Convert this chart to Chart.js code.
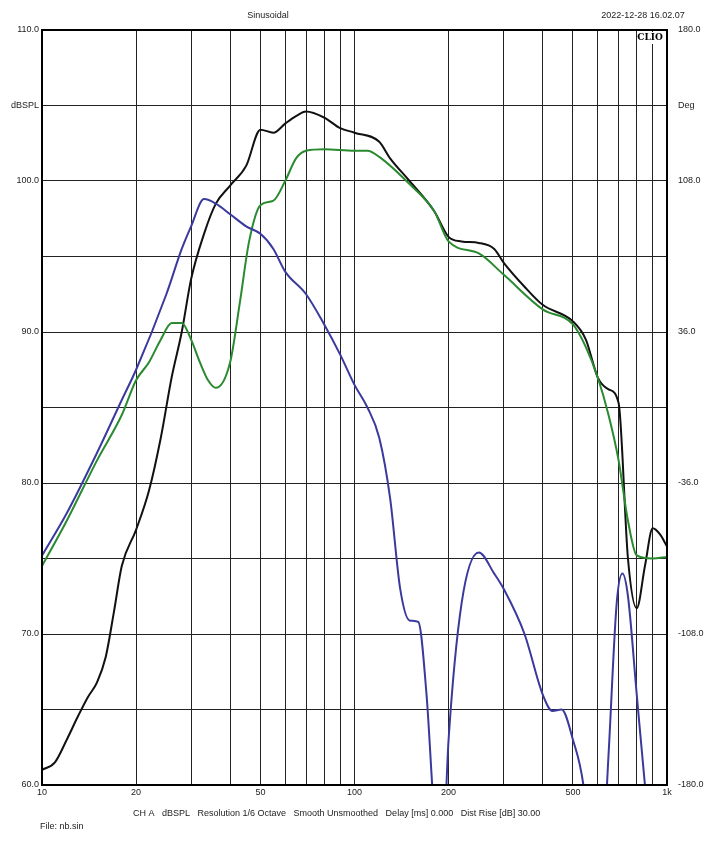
<!DOCTYPE html>
<html><head><meta charset="utf-8">
<script src="https://cdn.jsdelivr.net/npm/chart.js@4/dist/chart.umd.min.js"></script>
<style>html,body{margin:0;padding:0;background:#fff}#w{width:705px;height:841px}</style>
</head><body><div id="w"><canvas id="c"></canvas></div>
<script>
const xTicks=[10,20,30,40,50,60,70,80,90,100,200,300,400,500,600,700,800,900,1000];
const xLabels={10:'10',20:'20',50:'50',100:'100',200:'200',500:'500',1000:'1k'};
const leftLabels={110:'110.0',105:'dBSPL',100:'100.0',90:'90.0',80:'80.0',70:'70.0',60:'60.0'};
const rightLabels={110:'180.0',105:'Deg',100:'108.0',90:'36.0',80:'-36.0',70:'-108.0',60:'-180.0'};
const blackF=[10,11,12,13,14,15,16,17,18,20,22,24,26,28,30,33,36,40,45,50,55,60,65,70,80,90,100,120,130,150,180,200,220,250,280,300,350,400,500,550,600,650,700,750,800,850,900,950,1000];
const blackV=[61.0,61.5,63,64.5,65.8,66.8,68.5,71.5,74.5,76.9,79.5,83,87,90,93.5,96.5,98.5,99.7,101,103.4,103.2,103.8,104.3,104.6,104.2,103.5,103.2,102.6,101.5,100,98,96.3,96,95.9,95.5,94.6,93,91.8,90.7,89.5,87,86.2,85.3,75,71.7,74.5,77,76.6,75.8];
const greenF=[10,12,15,18,20,22,24,26,28,30,32,34,36,40,43,46,50,55,60,65,70,80,100,110,120,150,180,200,250,300,400,500,550,600,650,700,750,800,900,1000];
const greenV=[74.5,77.5,81.5,84.5,86.8,88,89.5,90.6,90.6,89.5,88,86.8,86.3,88,92,96,98.4,98.7,100,101.5,102,102.1,102,102,101.6,99.8,98,96,95.2,93.8,91.5,90.5,89,87,84.5,81.5,77.5,75.2,75,75.1];
const blueF=[10,12,15,18,20,25,28,30,33,36,40,45,50,55,60,70,80,90,100,110,120,130,140,150,160,170,180,190,200,220,250,280,300,350,400,430,460,500,540,570,600,650,690,720,750,800,850,900];
const blueV=[75.2,78,82,85.5,87.5,92.5,95.5,97,98.8,98.5,97.8,97,96.5,95.5,94,92.5,90.5,88.5,86.5,85,83,79,73,70.9,70.8,66,58,54,63,72,75.4,74,73,70,66,64.9,65,63,60,55,50,62,72,74,72.5,66,60,55];
const toPts=(f,v)=>f.map((x,i)=>({x:x,y:v[i]}));
const extras={id:'extras',
 afterDatasetsDraw(ch){const c=ch.ctx,a=ch.chartArea;c.save();
  c.strokeStyle='#000';c.lineWidth=2;c.strokeRect(a.left,a.top,a.right-a.left,a.bottom-a.top);
  c.fillStyle='#fff';c.fillRect(a.right-30,a.top+2,26,12);
  c.fillStyle='#000';c.font='bold 9px "DejaVu Serif"';c.textAlign='center';c.textBaseline='middle';
  c.fillText('CLIO',a.right-17,a.top+8);
  c.font='9px "Liberation Sans"';c.fillStyle='#222';
  c.fillText('Sinusoidal',268,16);
  c.fillText('2022-12-28 16.02.07',643,16);
  c.textAlign='left';
  c.fillText('CH A   dBSPL   Resolution 1/6 Octave   Smooth Unsmoothed   Delay [ms] 0.000   Dist Rise [dB] 30.00',133,814);
  c.fillText('File: nb.sin',40,827);
  c.restore();}};
new Chart(document.getElementById('c'),{type:'line',
 data:{datasets:[
  {data:toPts(blueF,blueV),borderColor:'#3a3a9e',borderWidth:2},
  {data:toPts(greenF,greenV),borderColor:'#2a8a30',borderWidth:2},
  {data:toPts(blackF,blackV),borderColor:'#111',borderWidth:2}]},
 options:{responsive:true,maintainAspectRatio:false,animation:false,
  layout:{padding:{top:30,bottom:40,left:0,right:0}},
  elements:{point:{radius:0},line:{tension:0.4,cubicInterpolationMode:'monotone'}},
  plugins:{legend:{display:false},tooltip:{enabled:false}},
  scales:{
   x:{type:'logarithmic',min:10,max:1000,
    afterBuildTicks:s=>{s.ticks=xTicks.map(v=>({value:v}));},
    afterFit:s=>{s.height=16;},
    ticks:{autoSkip:false,maxRotation:0,padding:2,color:'#222',font:{size:9,family:'Liberation Sans'},callback:v=>xLabels[v]||''},
    grid:{color:'#222',lineWidth:1,drawTicks:false},border:{display:false}},
   y:{min:60,max:110,position:'left',
    afterBuildTicks:s=>{const t=[];for(let v=60;v<=110;v+=5)t.push({value:v});s.ticks=t;},
    afterFit:s=>{s.width=42;},
    ticks:{autoSkip:false,padding:3,color:'#222',font:{size:9,family:'Liberation Sans'},callback:v=>leftLabels[v]||''},
    grid:{color:'#222',lineWidth:1,drawTicks:false},border:{display:false}},
   y2:{min:60,max:110,position:'right',
    afterBuildTicks:s=>{const t=[];for(let v=60;v<=110;v+=5)t.push({value:v});s.ticks=t;},
    afterFit:s=>{s.width=38;},
    ticks:{autoSkip:false,padding:3,color:'#222',font:{size:9,family:'Liberation Sans'},callback:v=>rightLabels[v]||''},
    grid:{display:false},border:{display:false}}
  }},
 plugins:[extras]});
</script></body></html>
